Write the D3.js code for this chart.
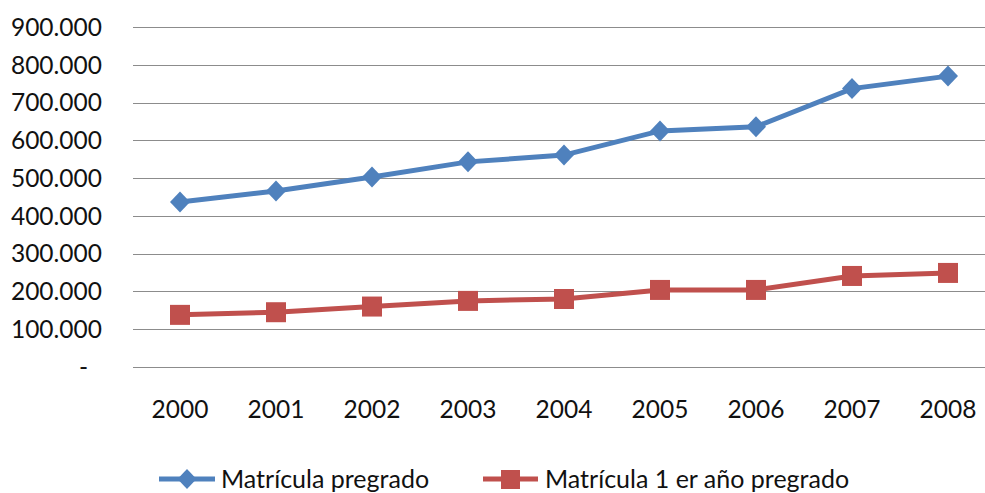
<!DOCTYPE html>
<html>
<head>
<meta charset="utf-8">
<script src="https://cdn.jsdelivr.net/npm/d3@7"></script>
<style>
  body { margin: 0; background: #fff; }
  text { font-family: Lato, "Open Sans", sans-serif; fill: #111; }
</style>
</head>
<body>
<script>
// chart data
var years = ["2000", "2001", "2002", "2003", "2004", "2005", "2006", "2007", "2008"];
var matriculaPregrado = [437000, 466000, 503000, 543000, 561000, 625000, 636000, 737000, 770000];
var matriculaPrimerAno = [138000, 145000, 160000, 175000, 180000, 204000, 204000, 241000, 249000];
var yTicks = [0, 100000, 200000, 300000, 400000, 500000, 600000, 700000, 800000, 900000];
var seriesNames = ["Matrícula pregrado", "Matrícula 1 er año pregrado"];

var width = 985, height = 493;

var svg = d3.select("body").append("svg")
    .attr("width", width)
    .attr("height", height);

// scales
var x = d3.scalePoint()
    .domain(years)
    .range([132, 996])
    .padding(0.5);
var y = d3.scaleLinear()
    .domain([0, 900000])
    .range([367, 27]);

var locale = d3.formatLocale({decimal: ",", thousands: ".", grouping: [3], currency: ["", ""]});
var fmt = locale.format(",");

// gridlines
svg.append("g")
    .selectAll("line")
    .data(yTicks)
    .enter().append("line")
    .attr("x1", 133)
    .attr("x2", width)
    .attr("y1", function(d) { return Math.round(y(d)) + 0.5; })
    .attr("y2", function(d) { return Math.round(y(d)) + 0.5; })
    .attr("stroke", "#8c8c8c")
    .attr("stroke-width", 1);

// y axis labels
svg.append("g")
    .selectAll("text")
    .data(yTicks)
    .enter().append("text")
    .attr("x", function(d) { return d === 0 ? 88 : 102; })
    .attr("y", function(d) { return y(d); })
    .attr("dy", "0.36em")
    .attr("text-anchor", "end")
    .style("font-size", "24.5px")
    .text(function(d) { return d === 0 ? "-" : fmt(d); });

// x axis labels
svg.append("g")
    .selectAll("text")
    .data(years)
    .enter().append("text")
    .attr("x", function(d) { return x(d); })
    .attr("y", 418)
    .attr("text-anchor", "middle")
    .style("font-size", "24.5px")
    .text(function(d) { return d; });

var line = d3.line()
    .x(function(d, i) { return x(years[i]); })
    .y(function(d) { return y(d); });

// blue series
svg.append("path")
    .datum(matriculaPregrado)
    .attr("fill", "none")
    .attr("stroke", "#4f81bd")
    .attr("stroke-width", 5)
    .attr("d", line);

svg.append("g")
    .selectAll("path")
    .data(matriculaPregrado)
    .enter().append("path")
    .attr("transform", function(d, i) { return "translate(" + x(years[i]) + "," + y(d) + ")"; })
    .attr("d", "M0,-10.5L10,0L0,10.5L-10,0Z")
    .attr("fill", "#4f81bd");

// red series
svg.append("path")
    .datum(matriculaPrimerAno)
    .attr("fill", "none")
    .attr("stroke", "#c0504d")
    .attr("stroke-width", 5)
    .attr("d", line);

svg.append("g")
    .selectAll("rect")
    .data(matriculaPrimerAno)
    .enter().append("rect")
    .attr("x", function(d, i) { return x(years[i]) - 10; })
    .attr("y", function(d) { return y(d) - 10; })
    .attr("width", 20)
    .attr("height", 20)
    .attr("fill", "#c0504d");

// legend
var legend = svg.append("g");
legend.append("line")
    .attr("x1", 159).attr("x2", 215)
    .attr("y1", 479).attr("y2", 479)
    .attr("stroke", "#4f81bd").attr("stroke-width", 5);
legend.append("path")
    .attr("transform", "translate(187,479)")
    .attr("d", "M0,-10L9.5,0L0,10L-9.5,0Z")
    .attr("fill", "#4f81bd");
legend.append("text")
    .attr("x", 221).attr("y", 488)
    .style("font-size", "25px")
    .text(seriesNames[0]);

legend.append("line")
    .attr("x1", 483).attr("x2", 538)
    .attr("y1", 479).attr("y2", 479)
    .attr("stroke", "#c0504d").attr("stroke-width", 5);
legend.append("rect")
    .attr("x", 501).attr("y", 470)
    .attr("width", 19).attr("height", 19)
    .attr("fill", "#c0504d");
legend.append("text")
    .attr("x", 545).attr("y", 488)
    .style("font-size", "25px")
    .text(seriesNames[1]);
</script>
</body>
</html>
